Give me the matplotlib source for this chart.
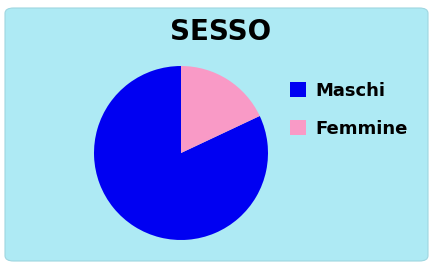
import matplotlib
matplotlib.use('Agg')
import matplotlib.pyplot as plt
from matplotlib.patches import FancyBboxPatch

# data
labels = ['Maschi', 'Femmine']
values = [82, 18]
colors = ['#0000f2', '#f99ac6']
title = 'SESSO'

W, H = 431, 263
fig = plt.figure(figsize=(W / 100, H / 100), dpi=100)
fig.patch.set_facecolor('white')

# rounded light-cyan panel
panel = FancyBboxPatch((5 / W, 2 / H), 423 / W, 253 / H,
                       boxstyle='round,pad=0,rounding_size=0.02',
                       transform=fig.transFigure, facecolor='#aeeaf4',
                       edgecolor='#9fd6e0', linewidth=0.8, zorder=-10)
fig.patches.append(panel)

fig.text(221 / W, 1 - 32 / H, title, ha='center', va='center',
         fontsize=20, fontweight='heavy', color='black')

# pie, center (181,153) px, radius 87 px
cx, cy, r = 181, 153, 87
ax = fig.add_axes([(cx - r) / W, (H - cy - r) / H, 2 * r / W, 2 * r / H])
wedges, _ = ax.pie(values, colors=colors, startangle=90, counterclock=True,
                   wedgeprops=dict(linewidth=0))
ax.set_xlim(-1, 1)
ax.set_ylim(-1, 1)
ax.set_aspect('auto')
ax.axis('off')

fig.legend(wedges, labels, loc='upper left',
           bbox_to_anchor=(290 / W, 1 - 82 / H), frameon=False,
           prop=dict(size=13, weight='bold'), handlelength=0.9,
           handleheight=0.9, handletextpad=0.5, labelspacing=1.1,
           borderaxespad=0, borderpad=0)

fig.savefig('out.png', dpi=100, facecolor='white')
